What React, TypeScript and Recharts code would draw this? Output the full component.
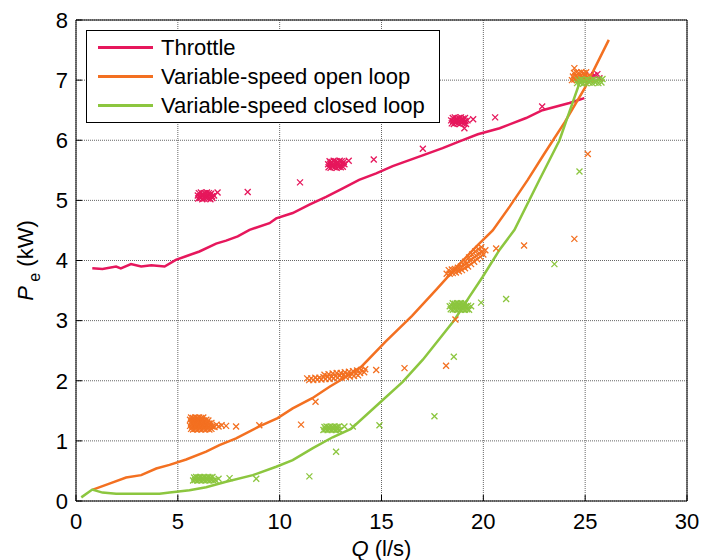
import React from 'react';
import { ComposedChart, Line, Scatter, XAxis, YAxis, CartesianGrid, Legend } from 'recharts';

const FONT = '"Liberation Sans", Arial, Helvetica, sans-serif';

const xTicks = [0, 5, 10, 15, 20, 25, 30];
const yTicks = [0, 1, 2, 3, 4, 5, 6, 7, 8];
const seriesNames = ['Throttle', 'Variable-speed open loop', 'Variable-speed closed loop'];
const seriesColors = ['#E6175C', '#F37021', '#8CC63F'];

// Fitted curves [Q, Pe]
const throttleLine: [number, number][] = [
  [0.8, 3.87], [1.3, 3.86], [1.97, 3.9], [2.2, 3.87], [2.7, 3.94], [3.2, 3.9], [3.7, 3.92], [4.35, 3.9],
  [4.9, 4.01], [5.4, 4.07], [6.06, 4.15], [6.88, 4.28], [7.37, 4.33], [7.94, 4.4], [8.52, 4.51], [9.5, 4.62],
  [9.83, 4.7], [10.64, 4.79], [11.46, 4.93], [12.28, 5.06], [13.1, 5.2], [13.9, 5.34], [14.74, 5.45],
  [15.55, 5.57], [16.37, 5.67], [17.19, 5.77], [18.0, 5.87], [18.83, 5.98], [19.73, 6.1], [20.8, 6.2],
  [22.1, 6.37], [22.9, 6.5], [24.23, 6.62], [24.96, 6.7],
];
const openLoopLine: [number, number][] = [
  [0.83, 0.19], [1.64, 0.29], [2.46, 0.39], [3.2, 0.43], [3.94, 0.54], [4.59, 0.6], [5.41, 0.69],
  [6.39, 0.82], [7.04, 0.93], [7.86, 1.04], [9.0, 1.24], [9.9, 1.38], [10.64, 1.54], [11.6, 1.71],
  [12.45, 1.9], [12.94, 2.0], [14.0, 2.23], [15.2, 2.65], [16.5, 3.08], [17.7, 3.52], [18.66, 3.88],
  [19.65, 4.23], [20.46, 4.5], [21.3, 4.9], [22.18, 5.34], [23.0, 5.78], [24.0, 6.3], [25.0, 6.88], [26.16, 7.67],
];
const closedLoopLine: [number, number][] = [
  [0.26, 0.06], [0.8, 0.19], [1.3, 0.14], [1.97, 0.12], [3.0, 0.12], [4.1, 0.12], [4.6, 0.14], [5.57, 0.18],
  [6.39, 0.23], [7.37, 0.32], [8.68, 0.43], [9.83, 0.57], [10.64, 0.68], [11.63, 0.88], [12.6, 1.06],
  [13.5, 1.2], [14.9, 1.63], [16.04, 1.98], [17.03, 2.35], [17.85, 2.7], [18.58, 3.01], [19.32, 3.4],
  [19.97, 3.73], [20.8, 4.18], [21.53, 4.51], [22.75, 5.34], [23.74, 6.0], [24.72, 6.95], [25.0, 7.02],
];

// Measured points [Q, Pe]
const throttlePoints: [number, number][] = [
  // cluster ~6.4 l/s
  [6.0, 5.03], [6.1, 5.04], [6.2, 5.02], [6.3, 5.03], [6.4, 5.04], [6.5, 5.03], [6.6, 5.02], [6.7, 5.04],
  [5.98, 5.08], [6.08, 5.07], [6.18, 5.09], [6.28, 5.08], [6.38, 5.07], [6.48, 5.08], [6.58, 5.09], [6.68, 5.07], [6.78, 5.08],
  [6.03, 5.12], [6.13, 5.13], [6.23, 5.11], [6.33, 5.12], [6.43, 5.13], [6.53, 5.12], [6.63, 5.11],
  [6.95, 5.13], [8.43, 5.14],
  // cluster ~12.8 l/s
  [12.4, 5.55], [12.5, 5.54], [12.6, 5.56], [12.7, 5.55], [12.8, 5.54], [12.9, 5.56], [13.0, 5.55], [13.1, 5.56],
  [12.38, 5.6], [12.48, 5.61], [12.58, 5.59], [12.68, 5.6], [12.78, 5.61], [12.88, 5.6], [12.98, 5.59], [13.08, 5.61], [13.18, 5.6],
  [12.45, 5.65], [12.55, 5.64], [12.65, 5.66], [12.75, 5.65], [12.85, 5.64], [12.95, 5.66], [13.05, 5.65], [13.15, 5.64],
  [13.39, 5.66], [14.62, 5.68], [11.0, 5.3], [17.03, 5.86],
  // cluster ~18.8 l/s
  [18.45, 6.28], [18.55, 6.27], [18.65, 6.29], [18.75, 6.28], [18.85, 6.27], [18.95, 6.29], [19.05, 6.28], [19.15, 6.27],
  [18.42, 6.33], [18.52, 6.32], [18.62, 6.34], [18.72, 6.33], [18.82, 6.32], [18.92, 6.34], [19.02, 6.33], [19.12, 6.32], [19.22, 6.33],
  [18.5, 6.37], [18.6, 6.38], [18.7, 6.36], [18.8, 6.37], [18.9, 6.38], [19.0, 6.36], [19.1, 6.37],
  [19.07, 6.2], [19.5, 6.35], [20.58, 6.38], [22.89, 6.56],
  // cluster ~25 l/s
  [25.6, 7.1], [25.7, 7.03], [25.3, 7.05], [25.0, 7.08], [25.45, 7.08],
];
const openLoopPoints: [number, number][] = [
  // cluster ~6.2 l/s
  [5.65, 1.2], [5.75, 1.19], [5.85, 1.2], [5.95, 1.19], [6.05, 1.2], [6.15, 1.19], [6.25, 1.2], [6.35, 1.19], [6.45, 1.2], [6.55, 1.19], [6.65, 1.2],
  [5.6, 1.25], [5.7, 1.24], [5.8, 1.25], [5.9, 1.24], [6.0, 1.25], [6.1, 1.24], [6.2, 1.25], [6.3, 1.24], [6.4, 1.25], [6.5, 1.24], [6.6, 1.25], [6.7, 1.24],
  [5.65, 1.3], [5.75, 1.29], [5.85, 1.3], [5.95, 1.29], [6.05, 1.3], [6.15, 1.29], [6.25, 1.3], [6.35, 1.29], [6.45, 1.3], [6.55, 1.29], [6.65, 1.3],
  [5.6, 1.35], [5.7, 1.34], [5.8, 1.35], [5.9, 1.34], [6.0, 1.35], [6.1, 1.34], [6.2, 1.35], [6.3, 1.34], [6.4, 1.35], [6.5, 1.34],
  [5.65, 1.39], [5.75, 1.38], [5.85, 1.39], [5.95, 1.38], [6.05, 1.39], [6.15, 1.38], [6.25, 1.39],
  [6.8, 1.23], [6.9, 1.27], [7.0, 1.24], [7.15, 1.26], [7.37, 1.25], [7.86, 1.24], [9.0, 1.26], [11.05, 1.27],
  [11.76, 1.65],
  // cluster ~12.8 l/s
  [11.35, 2.04], [11.55, 2.04], [11.75, 2.05], [11.95, 2.05], [12.15, 2.06], [12.35, 2.07], [12.55, 2.07], [12.75, 2.08],
  [12.95, 2.09], [13.15, 2.1], [13.35, 2.1], [13.55, 2.11], [13.75, 2.12], [13.95, 2.13], [14.15, 2.14],
  [11.45, 2.01], [11.65, 2.01], [11.85, 2.02], [12.05, 2.02], [12.25, 2.03], [12.45, 2.03], [12.65, 2.04], [12.85, 2.05],
  [13.05, 2.05], [13.25, 2.06], [13.45, 2.07], [13.65, 2.08], [13.85, 2.09],
  [12.2, 2.1], [12.4, 2.11], [12.6, 2.12], [12.8, 2.13], [13.0, 2.13], [13.2, 2.14], [13.4, 2.15], [13.6, 2.16],
  [13.8, 2.17], [14.0, 2.18], [14.2, 2.19],
  [14.74, 2.18], [16.13, 2.21], [18.17, 2.25],
  // cluster ~19.2 l/s
  [18.2, 3.78], [18.35, 3.78], [18.5, 3.79], [18.65, 3.8], [18.8, 3.82], [18.95, 3.84], [19.1, 3.87], [19.25, 3.9],
  [19.4, 3.94], [19.55, 3.98], [19.7, 4.02], [19.85, 4.06], [20.0, 4.1],
  [18.3, 3.84], [18.45, 3.85], [18.6, 3.86], [18.75, 3.88], [18.9, 3.9], [19.05, 3.93], [19.2, 3.96], [19.35, 4.0],
  [19.5, 4.04], [19.65, 4.08], [19.8, 4.12], [19.95, 4.15], [20.1, 4.17],
  [19.1, 3.98], [19.3, 4.05], [19.45, 4.1], [19.6, 4.15], [19.75, 4.19], [19.9, 4.22],
  [20.63, 4.2], [22.0, 4.25], [24.47, 4.36], [18.63, 3.02], [25.13, 5.77],
  // cluster ~24.8 l/s
  [24.35, 7.0], [24.47, 7.01], [24.59, 7.0], [24.71, 7.01], [24.83, 7.0], [24.95, 7.01], [25.07, 7.0], [25.19, 7.01], [25.31, 7.0],
  [24.4, 7.06], [24.52, 7.07], [24.64, 7.06], [24.76, 7.07], [24.88, 7.06], [25.0, 7.07], [25.12, 7.06], [25.24, 7.07],
  [24.45, 7.12], [24.57, 7.13], [24.69, 7.12], [24.81, 7.13], [24.93, 7.12], [25.05, 7.13],
  [24.47, 7.2],
];
const closedLoopPoints: [number, number][] = [
  // cluster ~6.3 l/s
  [5.75, 0.34], [5.85, 0.35], [5.95, 0.34], [6.05, 0.35], [6.15, 0.34], [6.25, 0.35], [6.35, 0.34], [6.45, 0.35],
  [6.55, 0.34], [6.65, 0.35], [6.75, 0.34], [6.85, 0.35],
  [5.8, 0.39], [5.9, 0.4], [6.0, 0.39], [6.1, 0.4], [6.2, 0.39], [6.3, 0.4], [6.4, 0.39], [6.5, 0.4], [6.6, 0.39], [6.7, 0.4],
  [7.0, 0.37], [7.54, 0.38], [8.85, 0.37], [11.46, 0.41], [12.77, 0.82],
  // cluster ~12.5 l/s
  [12.15, 1.18], [12.25, 1.19], [12.35, 1.18], [12.45, 1.19], [12.55, 1.18], [12.65, 1.19], [12.75, 1.18], [12.85, 1.19], [12.95, 1.18],
  [12.2, 1.23], [12.3, 1.24], [12.4, 1.23], [12.5, 1.24], [12.6, 1.23], [12.7, 1.24], [12.8, 1.23], [12.9, 1.24],
  [13.18, 1.24], [13.59, 1.24], [14.9, 1.26], [17.6, 1.41],
  // cluster ~18.9 l/s
  [18.4, 3.19], [18.5, 3.18], [18.6, 3.19], [18.7, 3.18], [18.8, 3.19], [18.9, 3.18], [19.0, 3.19], [19.1, 3.18], [19.2, 3.19], [19.3, 3.18],
  [18.35, 3.24], [18.45, 3.25], [18.55, 3.24], [18.65, 3.25], [18.75, 3.24], [18.85, 3.25], [18.95, 3.24], [19.05, 3.25], [19.15, 3.24], [19.25, 3.25], [19.4, 3.24],
  [18.5, 3.29], [18.6, 3.28], [18.7, 3.29], [18.8, 3.28], [18.9, 3.29], [19.0, 3.28], [19.1, 3.29],
  [19.89, 3.3], [21.12, 3.36], [23.49, 3.94], [18.55, 2.4], [24.72, 5.48],
  // cluster ~25 l/s
  [24.6, 6.95], [24.75, 6.96], [24.9, 6.94], [25.05, 6.95], [25.2, 6.96], [25.35, 6.95], [25.5, 6.96], [25.65, 6.95], [25.8, 6.96],
  [24.65, 7.0], [24.8, 7.01], [24.95, 7.0], [25.1, 7.01], [25.25, 7.0], [25.4, 7.01], [25.55, 7.0], [25.7, 7.01], [25.85, 7.02],
];

const toXY = (arr: [number, number][]) => arr.map(([x, y]) => ({ x, y }));

const makeCross = (color: string) => (props: any) => {
  const { cx, cy } = props;
  if (cx == null || cy == null) return <g />;
  const s = 3;
  return (
    <path
      d={`M${cx - s},${cy - s}L${cx + s},${cy + s}M${cx - s},${cy + s}L${cx + s},${cy - s}`}
      stroke={color}
      strokeWidth={1.3}
      fill="none"
    />
  );
};

const renderLegend = () => (
  <div
    style={{
      position: 'relative',
      width: 354,
      height: 93,
      border: '1px solid #000',
      boxSizing: 'border-box',
      background: '#fff',
      fontFamily: FONT,
      fontSize: 22,
      color: '#000',
    }}
  >
    {seriesNames.map((name, i) => (
      <div
        key={name}
        style={{ position: 'absolute', left: 0, top: 2 + i * 29, height: 29, display: 'flex', alignItems: 'center' }}
      >
        <div style={{ marginLeft: 11, width: 55, height: 3, background: seriesColors[i] }} />
        <span style={{ marginLeft: 8, lineHeight: '29px', whiteSpace: 'nowrap' }}>{name}</span>
      </div>
    ))}
  </div>
);

const XLabel = (props: any) => {
  const vb = props.viewBox || {};
  const cx = vb.x + vb.width / 2;
  const y = vb.y + 55;
  return (
    <text x={cx} y={y} textAnchor="middle" fontFamily={FONT} fontSize={22} fill="#000">
      <tspan fontStyle="italic">Q</tspan>
      <tspan> (l/s)</tspan>
    </text>
  );
};

const YLabel = (props: any) => {
  const vb = props.viewBox || {};
  const cx = vb.x + 33;
  const cy = vb.y + vb.height / 2;
  return (
    <text
      x={cx}
      y={cy}
      textAnchor="middle"
      transform={`rotate(-90, ${cx}, ${cy})`}
      fontFamily={FONT}
      fontSize={22}
      fill="#000"
    >
      <tspan fontStyle="italic">P</tspan>
      <tspan fontSize={16} dy={7}> e</tspan>
      <tspan dy={-7}> (kW)</tspan>
    </text>
  );
};

const tickStyle = { fontSize: 22, fill: '#000', fontFamily: FONT };

export default function App() {
  return (
    <div style={{ position: 'absolute', left: 0, top: 0, width: 702, height: 560, background: '#fff' }}>
      <ComposedChart
        width={702}
        height={560}
        margin={{ top: 19, right: 14, bottom: 0, left: 0 }}
        style={{ fontFamily: FONT }}
      >
        <CartesianGrid xAxisId="bottom" yAxisId="left" stroke="#666" strokeDasharray="1 1" />
        <XAxis
          xAxisId="bottom"
          type="number"
          dataKey="x"
          domain={[0, 30]}
          ticks={xTicks}
          interval={0}
          height={59}
          tickSize={-6}
          tickMargin={18}
          tick={tickStyle}
          tickLine={{ stroke: '#000' }}
          axisLine={{ stroke: '#000' }}
          label={<XLabel />}
        />
        <XAxis
          xAxisId="top"
          orientation="top"
          type="number"
          dataKey="x"
          domain={[0, 30]}
          allowDataOverflow
          ticks={xTicks}
          interval={0}
          height={1}
          tickSize={-6}
          tick={false}
          tickLine={{ stroke: '#000' }}
          axisLine={{ stroke: '#000' }}
        />
        <YAxis
          yAxisId="left"
          type="number"
          dataKey="y"
          domain={[0, 8]}
          ticks={yTicks}
          interval={0}
          width={76}
          tickSize={-6}
          tickMargin={14}
          tick={tickStyle}
          tickLine={{ stroke: '#000' }}
          axisLine={{ stroke: '#000' }}
          label={<YLabel />}
        />
        <YAxis
          yAxisId="right"
          orientation="right"
          type="number"
          dataKey="y"
          domain={[0, 8]}
          allowDataOverflow
          ticks={yTicks}
          interval={0}
          width={1}
          tickSize={-6}
          tick={false}
          tickLine={{ stroke: '#000' }}
          axisLine={{ stroke: '#000' }}
        />
        <Legend
          layout="vertical"
          align="center"
          verticalAlign="middle"
          content={renderLegend}
          wrapperStyle={{ left: 86, top: 30, width: 354, height: 93, margin: 0 }}
        />
        <Scatter
          xAxisId="bottom"
          yAxisId="left"
          data={toXY(throttlePoints)}
          dataKey="y"
          shape={makeCross(seriesColors[0])}
          isAnimationActive={false}
          legendType="none"
        />
        <Line
          xAxisId="bottom"
          yAxisId="left"
          data={toXY(throttleLine)}
          dataKey="y"
          type="linear"
          stroke={seriesColors[0]}
          strokeWidth={2.5}
          dot={false}
          activeDot={false}
          isAnimationActive={false}
        />
        <Scatter
          xAxisId="bottom"
          yAxisId="left"
          data={toXY(openLoopPoints)}
          dataKey="y"
          shape={makeCross(seriesColors[1])}
          isAnimationActive={false}
          legendType="none"
        />
        <Line
          xAxisId="bottom"
          yAxisId="left"
          data={toXY(openLoopLine)}
          dataKey="y"
          type="linear"
          stroke={seriesColors[1]}
          strokeWidth={2.5}
          dot={false}
          activeDot={false}
          isAnimationActive={false}
        />
        <Scatter
          xAxisId="bottom"
          yAxisId="left"
          data={toXY(closedLoopPoints)}
          dataKey="y"
          shape={makeCross(seriesColors[2])}
          isAnimationActive={false}
          legendType="none"
        />
        <Line
          xAxisId="bottom"
          yAxisId="left"
          data={toXY(closedLoopLine)}
          dataKey="y"
          type="linear"
          stroke={seriesColors[2]}
          strokeWidth={2.5}
          dot={false}
          activeDot={false}
          isAnimationActive={false}
        />
      </ComposedChart>
    </div>
  );
}
